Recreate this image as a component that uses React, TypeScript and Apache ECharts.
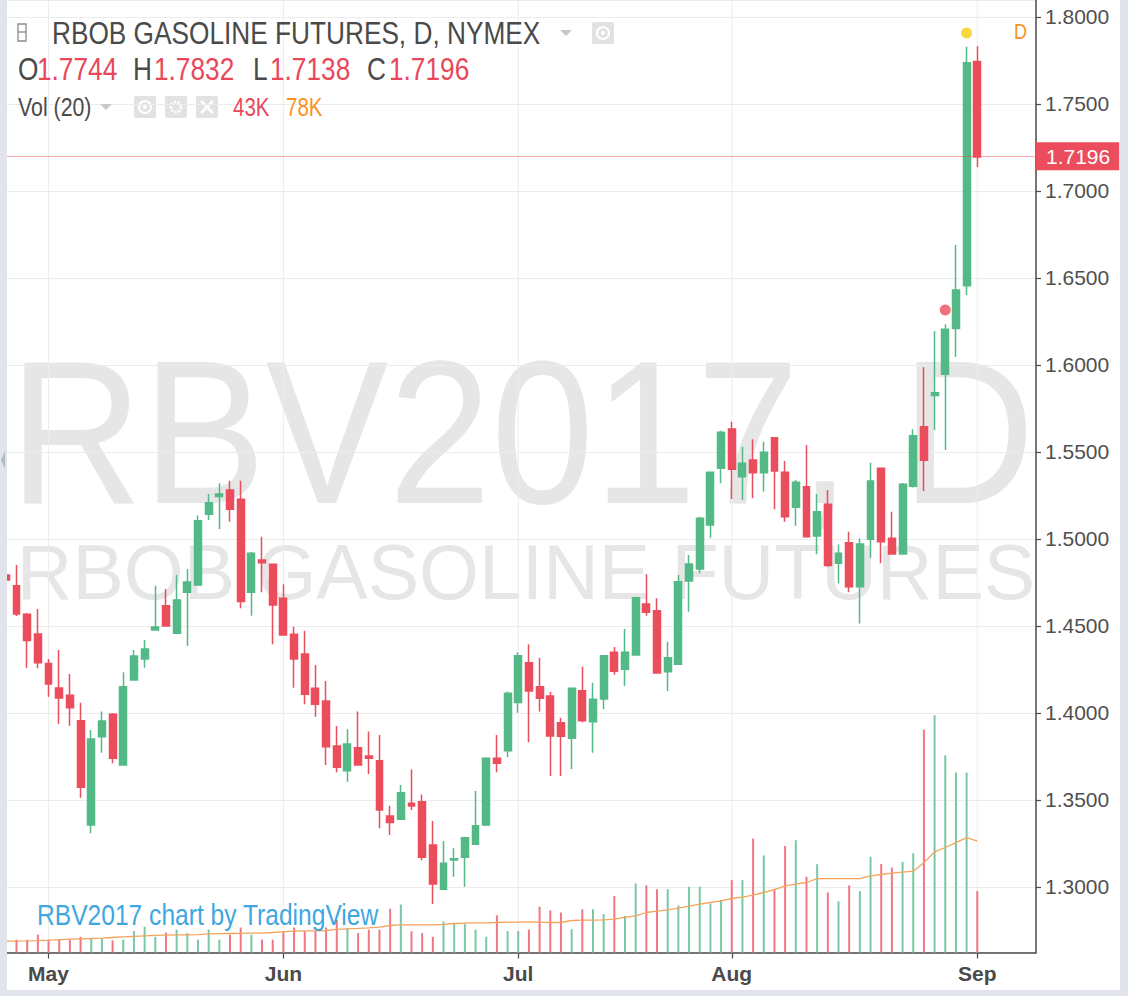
import React, { useEffect, useRef } from 'react';
import * as echarts from 'echarts';

// ---- data (Apr 25 .. Sep 1, 2017 daily bars) ----
const dates = [
  '04-25','04-26','04-27','04-28',
  '05-01','05-02','05-03','05-04','05-05','05-08','05-09','05-10','05-11','05-12','05-15','05-16','05-17','05-18','05-19','05-22','05-23','05-24','05-25','05-26','05-30','05-31',
  '06-01','06-02','06-05','06-06','06-07','06-08','06-09','06-12','06-13','06-14','06-15','06-16','06-19','06-20','06-21','06-22','06-23','06-26','06-27','06-28','06-29','06-30',
  '07-03','07-05','07-06','07-07','07-10','07-11','07-12','07-13','07-14','07-17','07-18','07-19','07-20','07-21','07-24','07-25','07-26','07-27','07-28','07-31',
  '08-01','08-02','08-03','08-04','08-07','08-08','08-09','08-10','08-11','08-14','08-15','08-16','08-17','08-18','08-21','08-22','08-23','08-24','08-25','08-28','08-29','08-30','08-31',
  '09-01'
];
const futureDates = ['09-05', '09-06', '09-07', '09-08', '09-11'];
const monthNames: Record<string, string> = { '04': 'Apr', '05': 'May', '06': 'Jun', '07': 'Jul', '08': 'Aug', '09': 'Sep' };

const opens = [
  1.4793,1.4732,1.4567,1.4454,1.4285,1.4144,1.4102,1.3956,1.3356,1.3864,1.3993,1.3701,1.4190,1.4310,1.4477,1.4617,1.4458,1.4694,1.4736,1.5142,
  1.5244,1.5282,1.5229,1.4694,1.4879,1.4855,1.4659,1.4452,1.4339,1.4142,1.4069,1.3810,1.3668,1.3801,1.3753,1.3726,1.3408,1.3390,1.3481,1.3490,
  1.3241,1.2987,1.3155,1.3171,1.3245,1.3356,1.3740,1.3783,1.4061,1.4289,1.4151,1.4098,1.3944,1.3855,1.4128,1.3950,1.4080,1.4349,1.4251,1.4333,
  1.4626,1.4588,1.4237,1.4280,1.4759,1.4828,1.5080,1.5406,1.5632,1.5358,1.5454,1.5381,1.5582,1.5383,1.5182,1.5301,1.5017,1.5199,1.4860,1.4979,
  1.4726,1.4998,1.5406,1.5004,1.4914,1.5303,1.5645,1.5824,1.5947,1.6210,1.6456,1.7744
];
const closes = [
  1.4764,1.4569,1.4416,1.4289,1.4167,1.4086,1.4030,1.3573,1.3851,1.3954,1.3740,1.4151,1.4328,1.4368,1.4494,1.4500,1.4649,1.4753,1.5105,1.5209,
  1.5259,1.5171,1.4641,1.4918,1.4864,1.4621,1.4448,1.4310,1.4108,1.4050,1.3806,1.3688,1.3822,1.3701,1.3740,1.3443,1.3370,1.3542,1.3466,1.3171,
  1.3017,1.3136,1.3162,1.3283,1.3352,1.3740,1.3711,1.4113,1.4329,1.4126,1.4085,1.3868,1.3866,1.4142,1.3956,1.4079,1.4329,1.4240,1.4349,1.4663,
  1.4579,1.4230,1.4318,1.4755,1.4856,1.5119,1.5383,1.5613,1.5401,1.5435,1.5381,1.5498,1.5391,1.5128,1.5326,1.5013,1.5157,1.4847,1.4918,1.4726,
  1.4971,1.5333,1.4984,1.4914,1.5314,1.5594,1.5452,1.5841,1.6205,1.6431,1.7737,1.7196
];
const highs = [
  1.4810,1.4851,1.4575,1.4598,1.4310,1.4362,1.4224,1.4059,1.3902,1.4008,1.4000,1.4234,1.4362,1.4419,1.4732,1.4713,1.4793,1.4828,1.5135,1.5259,
  1.5320,1.5335,1.5335,1.4925,1.5013,1.4858,1.4740,1.4496,1.4473,1.4276,1.4184,1.3925,1.3906,1.4008,1.3893,1.3874,1.3467,1.3586,1.3676,1.3532,
  1.3379,1.3264,1.3222,1.3289,1.3552,1.3745,1.3874,1.4122,1.4349,1.4395,1.4318,1.4122,1.3973,1.4146,1.4266,1.4174,1.4333,1.4379,1.4483,1.4668,
  1.4797,1.4659,1.4410,1.4793,1.4908,1.5128,1.5388,1.5622,1.5674,1.5530,1.5573,1.5559,1.5585,1.5448,1.5339,1.5540,1.5259,1.5282,1.4969,1.5042,
  1.5003,1.5438,1.5410,1.5157,1.5322,1.5631,1.5987,1.6195,1.6234,1.6690,1.7829,1.7832
];
const lows = [
  1.4750,1.4558,1.4259,1.4257,1.4094,1.3937,1.3927,1.3513,1.3309,1.3772,1.3711,1.3698,1.4188,1.4260,1.4475,1.4498,1.4456,1.4385,1.4734,1.5109,
  1.5058,1.5099,1.4602,1.4559,1.4694,1.4395,1.4446,1.4145,1.4050,1.3979,1.3701,1.3659,1.3605,1.3699,1.3649,1.3337,1.3299,1.3388,1.3443,1.3152,
  1.2902,1.2985,1.3059,1.3002,1.3243,1.3351,1.3659,1.3745,1.4002,1.3832,1.4008,1.3638,1.3638,1.3678,1.3947,1.3772,1.4021,1.4220,1.4155,1.4331,
  1.4559,1.4228,1.4126,1.4278,1.4582,1.4803,1.5007,1.5320,1.5230,1.5224,1.5234,1.5272,1.5171,1.5099,1.5076,1.5007,1.4912,1.4841,1.4745,1.4694,
  1.4515,1.4892,1.4860,1.4912,1.4912,1.5296,1.5276,1.5626,1.5511,1.6048,1.6402,1.7138
];
// volume in thousands of contracts
const volumes = [
  9,9,9,12.5,9,9,9,11,10,10,8.5,9,15,18,11,14,16,13.6,9,16,
  9,12.5,17.5,12.5,9,9,15,17.5,15,15,17.5,22.7,17,13.6,16,16,30.7,33.6,14.8,13.6,
  11,21.6,19.8,19.8,16,11,26,15,15,16,32,29.5,28,16.3,30.3,30.3,26.8,39.6,25.6,48.3,
  47,44.3,44.3,33,46,46,34.3,36.8,50.8,50.8,79.7,68,44.3,74.6,78.6,53,61.8,42,35.7,47,
  43,67,62,59.4,63.4,69.5,156,166,138,126,126,43
];
// Vol (20) moving average line, thousands
const volumeMA = [
  8.0,8.0,8.1,8.3,8.6,9.0,9.3,9.6,9.8,10.1,10.5,10.9,11.3,11.7,12.0,12.2,12.3,12.4,12.5,13.0,
  13.2,13.3,13.4,13.5,13.6,14.0,14.6,14.9,15.1,15.2,15.4,16.2,16.6,16.9,17.3,17.8,18.9,19.3,19.3,19.3,
  19.4,19.7,20.3,20.6,20.8,20.8,21.0,21.2,21.3,21.5,21.2,21.0,21.0,22.4,22.6,22.7,22.8,23.4,24.6,25.6,
  28.0,29.0,29.8,31.0,32.5,33.8,35.0,36.1,37.8,38.8,40.1,42.0,44.0,46.6,47.8,49.0,51.7,51.7,51.7,51.7,
  51.7,53.6,54.6,55.5,56.2,56.9,62.9,70.4,73.5,76.9,80.4,78.0
];
const lastPrice = 1.7196;
const redEvent = [['08-29', 1.6316]];
const yellowEvent = [['08-31', 1.7908]];

const headerOHLC = [
  { key: 'O', value: '1.7744' },
  { key: 'H', value: '1.7832' },
  { key: 'L', value: '1.7138' },
  { key: 'C', value: '1.7196' },
];
const volLast = '43K';
const volMALast = '78K';

// ---- style ----
const UP = '#53b987';
const DOWN = '#eb4d5c';
const VOL_UP = '#76c9a0';
const VOL_DOWN = '#ef7783';
const TXT = '#4a4a4a';
const GRID = '#ececec';
const FONT = '"Liberation Sans", Arial, sans-serif';

const allDates = [...dates, ...futureDates];
const isMonthStart = (i: number) => i > 0 && allDates[i].slice(0, 2) !== allDates[i - 1].slice(0, 2);
const monthStarts = allDates.filter((_, i) => isMonthStart(i));

const GRID_LEFT = 0.5;
const GRID_WIDTH = 1035.5;
const GRID_BOTTOM_Y = 952.5;

function narrowText(text: string, x: number, y: number, size: number, fill: string, extra: any = {}) {
  return {
    type: 'text',
    x,
    y,
    scaleX: 0.82,
    z: 50,
    style: {
      text,
      fill,
      fontSize: size,
      fontFamily: FONT,
      textAlign: 'left',
      textVerticalAlign: 'middle',
      ...extra,
    },
  };
}

function iconBox(x: number, y: number, children: any[]) {
  return {
    type: 'group',
    x,
    y,
    z: 50,
    children: [
      { type: 'rect', shape: { x: 0, y: 0, width: 22, height: 22, r: 2 }, style: { fill: '#e2e2e2' } },
      ...children,
    ],
  };
}

function buildOption() {
  const candleData = opens.map((o, i) => [o, closes[i], lows[i], highs[i]]);
  const volData = volumes.map((v, i) => ({
    value: v,
    itemStyle: { color: closes[i] >= opens[i] ? VOL_UP : VOL_DOWN },
  }));

  const ohlcX = [[18, 37], [133, 154], [253, 270], [367, 389]];
  const ohlcTexts: any[] = [];
  headerOHLC.forEach((h, k) => {
    ohlcTexts.push(narrowText(h.key, ohlcX[k][0], 69, 32, TXT));
    ohlcTexts.push(narrowText(h.value, ohlcX[k][1], 69, 32, '#e8485a'));
  });

  return {
    animation: false,
    backgroundColor: '#ffffff',
    grid: [
      { left: GRID_LEFT, top: 0, width: GRID_WIDTH, height: GRID_BOTTOM_Y, containLabel: false },
      { left: GRID_LEFT, top: GRID_BOTTOM_Y - 400, width: GRID_WIDTH, height: 400, containLabel: false },
    ],
    xAxis: [
      {
        gridIndex: 0,
        type: 'category',
        data: allDates,
        boundaryGap: true,
        axisLine: { show: true, lineStyle: { color: TXT, width: 1.5 } },
        axisTick: {
          show: true,
          interval: (i: number) => isMonthStart(i),
          alignWithLabel: true,
          length: 6,
          lineStyle: { color: TXT, width: 1.2 },
        },
        axisLabel: {
          interval: (i: number) => isMonthStart(i),
          formatter: (v: string) => monthNames[v.slice(0, 2)],
          color: TXT,
          fontSize: 21,
          fontFamily: '"Liberation Sans Narrow", "Liberation Sans", sans-serif',
          fontWeight: 'bold',
          margin: 10,
        },
        splitLine: { show: false },
      },
      {
        gridIndex: 1,
        type: 'category',
        data: allDates,
        boundaryGap: true,
        show: false,
      },
    ],
    yAxis: [
      {
        gridIndex: 0,
        type: 'value',
        position: 'right',
        min: 1.262356,
        max: 1.80977,
        splitNumber: 11,
        axisLine: { show: true, lineStyle: { color: TXT, width: 1.5 } },
        axisTick: { show: true, length: 5, lineStyle: { color: TXT, width: 1.2 } },
        axisLabel: {
          formatter: (v: number) => v.toFixed(4),
          color: '#4f4f4f',
          fontSize: 21,
          fontFamily: FONT,
          margin: 9,
          showMinLabel: false,
          showMaxLabel: false,
        },
        splitLine: { show: true, lineStyle: { color: GRID, width: 1 } },
      },
      { gridIndex: 1, type: 'value', min: 0, max: 280, show: false, splitLine: { show: false } },
    ],
    series: [
      {
        name: 'monthLines',
        type: 'custom',
        xAxisIndex: 0,
        yAxisIndex: 0,
        z: 1,
        silent: true,
        data: monthStarts.map((d) => [d, 1.5]),
        renderItem: (params: any, api: any) => {
          const x = api.coord([api.value(0), api.value(1)])[0];
          const cs = params.coordSys;
          return {
            type: 'line',
            shape: { x1: x, y1: cs.y, x2: x, y2: cs.y + cs.height },
            style: { stroke: GRID, lineWidth: 1 },
          };
        },
      },
      {
        name: 'Volume',
        type: 'bar',
        xAxisIndex: 1,
        yAxisIndex: 1,
        data: volData,
        barWidth: 2,
        z: 2,
        silent: true,
      },
      {
        name: 'Vol MA',
        type: 'line',
        xAxisIndex: 1,
        yAxisIndex: 1,
        data: volumeMA,
        symbol: 'none',
        lineStyle: { color: '#f7a35c', width: 1.3 },
        z: 3,
        silent: true,
      },
      {
        name: 'RBV2017',
        type: 'candlestick',
        xAxisIndex: 0,
        yAxisIndex: 0,
        data: candleData,
        barWidth: 7.4,
        clip: true,
        z: 4,
        itemStyle: {
          color: UP,
          color0: DOWN,
          borderColor: UP,
          borderColor0: DOWN,
          borderWidth: 1.5,
        },
        markLine: {
          silent: true,
          symbol: 'none',
          data: [{ yAxis: lastPrice }],
          lineStyle: { color: DOWN, type: 'dotted', width: 1 },
          label: {
            show: true,
            position: 'end',
            distance: 0,
            formatter: () => lastPrice.toFixed(4),
            backgroundColor: DOWN,
            color: '#ffffff',
            fontSize: 21,
            fontFamily: FONT,
            padding: [4, 9, 3, 10],
          },
        },
      },
      {
        name: 'eventRed',
        type: 'scatter',
        xAxisIndex: 0,
        yAxisIndex: 0,
        data: redEvent,
        symbolSize: 11,
        itemStyle: { color: DOWN },
        z: 5,
        silent: true,
      },
      {
        name: 'eventYellow',
        type: 'scatter',
        xAxisIndex: 0,
        yAxisIndex: 0,
        data: yellowEvent,
        symbolSize: 11,
        itemStyle: { color: '#f5d00f' },
        z: 5,
        silent: true,
      },
    ],
    graphic: {
      elements: [
        // watermarks
        {
          type: 'text',
          x: 522,
          y: 432,
          scaleX: 0.9,
          z: -1,
          silent: true,
          style: {
            text: 'RBV2017, D',
            fill: '#e6e6e6',
            fontSize: 205,
            fontFamily: FONT,
            textAlign: 'center',
            textVerticalAlign: 'middle',
          },
        },
        {
          type: 'text',
          x: 526,
          y: 572,
          z: -1,
          silent: true,
          style: {
            text: 'RBOB GASOLINE FUTURES',
            fill: '#e6e6e6',
            fontSize: 77,
            fontFamily: FONT,
            textAlign: 'center',
            textVerticalAlign: 'middle',
          },
        },
        // header
        {
          type: 'group',
          x: 18,
          y: 24,
          z: 50,
          children: [
            { type: 'rect', shape: { x: 0, y: 0, width: 8, height: 17 }, style: { fill: 'none', stroke: '#8a8a8a', lineWidth: 1.3 } },
            { type: 'line', shape: { x1: 0, y1: 8, x2: 8, y2: 8 }, style: { stroke: '#8a8a8a', lineWidth: 1.3 } },
          ],
        },
        narrowText('RBOB GASOLINE FUTURES, D, NYMEX', 52, 33, 32, TXT),
        { type: 'polygon', z: 50, shape: { points: [[560, 30], [572, 30], [566, 36]] }, style: { fill: '#c9c9c9' } },
        iconBox(592, 22, [
          { type: 'circle', shape: { cx: 11, cy: 11, r: 6 }, style: { fill: 'none', stroke: '#fff', lineWidth: 2 } },
          { type: 'circle', shape: { cx: 11, cy: 11, r: 2 }, style: { fill: '#fff' } },
        ]),
        ...ohlcTexts,
        narrowText('Vol (20)', 18, 107, 26, TXT),
        { type: 'polygon', z: 50, shape: { points: [[100, 104], [112, 104], [106, 110]] }, style: { fill: '#c9c9c9' } },
        iconBox(134, 96, [
          { type: 'circle', shape: { cx: 11, cy: 11, r: 6 }, style: { fill: 'none', stroke: '#fff', lineWidth: 2 } },
          { type: 'circle', shape: { cx: 11, cy: 11, r: 2 }, style: { fill: '#fff' } },
        ]),
        iconBox(165, 96, [
          { type: 'circle', shape: { cx: 11, cy: 11, r: 5 }, style: { fill: 'none', stroke: '#fff', lineWidth: 3, lineDash: [2, 1.5] } },
          { type: 'circle', shape: { cx: 11, cy: 11, r: 2 }, style: { fill: '#e2e2e2' } },
        ]),
        iconBox(196, 96, [
          { type: 'line', shape: { x1: 5, y1: 5, x2: 17, y2: 17 }, style: { stroke: '#fff', lineWidth: 2.5 } },
          { type: 'line', shape: { x1: 17, y1: 5, x2: 5, y2: 17 }, style: { stroke: '#fff', lineWidth: 2.5 } },
        ]),
        narrowText(volLast, 233, 107, 25, '#e8485a'),
        narrowText(volMALast, 286, 107, 25, '#f7931e'),
        narrowText('D', 1014, 31, 22, '#f7931e'),
        narrowText('RBV2017 chart by TradingView', 37, 915, 30, '#3fa7df'),
        // frame
        { type: 'rect', z: 100, shape: { x: 0, y: 0, width: 7, height: 996 }, style: { fill: '#e1e4ea' } },
        { type: 'polygon', z: 101, shape: { points: [[5, 451], [5, 469], [1, 460]] }, style: { fill: '#b5b9c2' } },
        { type: 'rect', z: 100, shape: { x: 1120, y: 0, width: 8, height: 996 }, style: { fill: '#e1e4ea' } },
        { type: 'rect', z: 100, shape: { x: 0, y: 990, width: 1128, height: 6 }, style: { fill: '#e1e4ea' } },
      ],
    },
  };
}

export default function App() {
  const ref = useRef<HTMLDivElement>(null);
  useEffect(() => {
    if (!ref.current) return;
    const chart = echarts.init(ref.current, null, { renderer: 'svg' });
    chart.setOption(buildOption() as any);
    return () => chart.dispose();
  }, []);
  return (
    <div
      ref={ref}
      style={{ position: 'absolute', left: 0, top: 0, width: 1128, height: 996, background: '#ffffff' }}
    />
  );
}
